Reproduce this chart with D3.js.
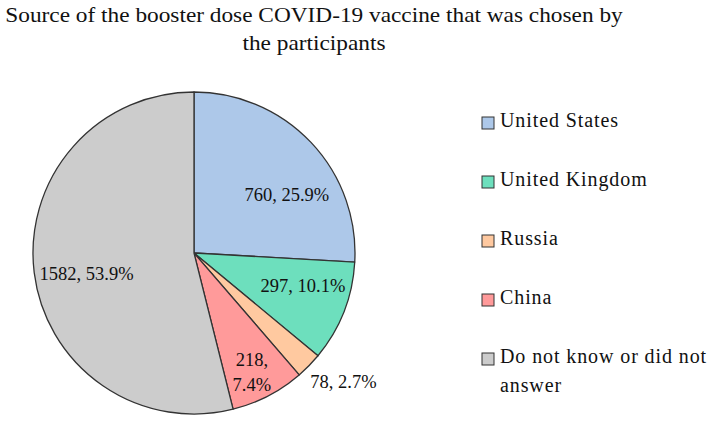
<!DOCTYPE html>
<html><head><meta charset="utf-8">
<script src="https://cdn.jsdelivr.net/npm/d3@7"></script>
<style>body{margin:0;background:#fff}</style>
</head><body>
<svg id="c" width="717" height="423"></svg>
<script>
const categories = ["United States", "United Kingdom", "Russia", "China", "Do not know or did not answer"];
const counts = [760, 297, 78, 218, 1582];
const percents = ["25.9%", "10.1%", "2.7%", "7.4%", "53.9%"];
const colors = ["#adc8e9", "#6ddfbd", "#ffc9a0", "#ff9a9a", "#cccccc"];
const titleLines = ["Source of the booster dose COVID-19 vaccine that was chosen by", "the participants"];

const svg = d3.select("#c");
const font = "'Liberation Serif', serif";
const cx = 194, cy = 253, R = 161;

// title: uniform horizontal stretch so the first line spans x 5..623
const tg = svg.append("g");
const tEls = titleLines.map((s, i) => tg.append("text").attr("x", 0).attr("y", 22 + i * 28)
    .attr("text-anchor", "middle")
    .style("font-family", font).style("font-size", "20.5px").attr("fill", "#111").text(s));
const w0 = tEls[0].node().getComputedTextLength();
const sx = 618 / w0;
tEls.forEach(t => t.attr("transform", `translate(314,0) scale(${sx},1)`));

const pie = d3.pie().sort(null).value(d => d)(counts);
const arc = d3.arc().innerRadius(0).outerRadius(R);
const g = svg.append("g").attr("transform", `translate(${cx},${cy})`);
g.selectAll("path").data(pie).join("path")
  .attr("d", arc).attr("fill", (d, i) => colors[i])
  .attr("stroke", "#333").attr("stroke-width", 1.3).attr("stroke-linejoin", "round");

// label placement (angle from north in degrees, radius fraction, anchor)
const labelPlace = [
  {a: 58, r: 0.68, anchor: "middle"},
  {a: 106.8, r: 0.707, anchor: "middle"},
  {a: 138, r: 1.08, anchor: "start"},
  {a: 154, r: 0.82, anchor: "middle"},
  {a: 259, r: 0.68, anchor: "middle"}
];
pie.forEach((d, i) => {
  const p = labelPlace[i];
  const ang = p.a * Math.PI / 180;
  const x = Math.sin(ang) * R * p.r, y = -Math.cos(ang) * R * p.r;
  const t = g.append("text").attr("text-anchor", p.anchor)
    .style("font-family", font).style("font-size", "18.5px").attr("fill", "#111");
  if (i === 3) {
    t.append("tspan").attr("x", x).attr("y", y - 6).text(counts[i] + ",");
    t.append("tspan").attr("x", x).attr("y", y + 19).text(percents[i]);
  } else {
    t.attr("x", x).attr("y", y + 6).text(counts[i] + ", " + percents[i]);
  }
});

// legend
const lg = svg.append("g");
categories.forEach((c, i) => {
  const y = 127 + i * 59;
  lg.append("rect").attr("x", 482).attr("y", y - 10).attr("width", 12).attr("height", 12)
    .attr("fill", colors[i]).attr("stroke", "#333").attr("stroke-width", 1);
  const t = lg.append("text").attr("x", 500).attr("y", y)
    .style("font-family", font).style("font-size", "20px").style("letter-spacing", "0.9px").attr("fill", "#111");
  if (i === 4) {
    t.append("tspan").attr("x", 500).attr("y", y).text("Do not know or did not");
    t.append("tspan").attr("x", 500).attr("y", y + 29).text("answer");
  } else t.text(c);
});
</script>
</body></html>
